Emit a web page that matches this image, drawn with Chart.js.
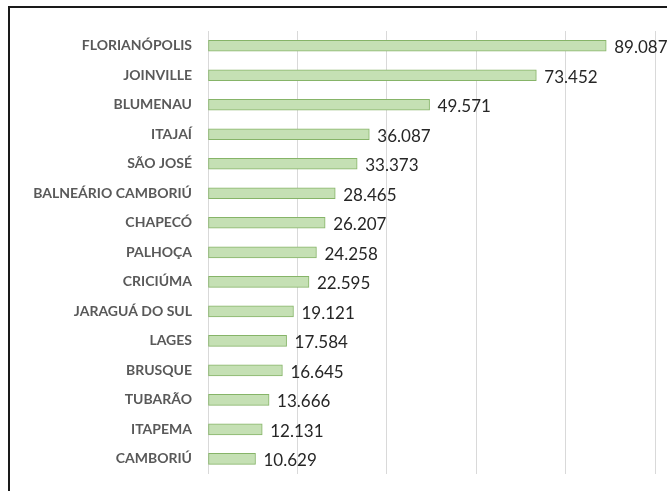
<!DOCTYPE html>
<html>
<head>
<meta charset="utf-8">
<script src="https://cdn.jsdelivr.net/npm/chart.js@4"></script>
<style>
  html, body { margin: 0; padding: 0; background: #fff; }
  #wrap { position: relative; width: 667px; height: 491px; overflow: hidden; }
  #frame { position: absolute; left: 8px; top: 6px; width: 700px; height: 520px; border: 2px solid #1a1a1a; box-sizing: border-box; }
  #chart { position: absolute; left: 0; top: 0; }
</style>
</head>
<body>
<div id="wrap">
  <div id="frame"></div>
  <canvas id="chart" width="667" height="498"></canvas>
</div>
<script>
  const cities = [
    'FLORIANÓPOLIS', 'JOINVILLE', 'BLUMENAU', 'ITAJAÍ', 'SÃO JOSÉ',
    'BALNEÁRIO CAMBORIÚ', 'CHAPECÓ', 'PALHOÇA', 'CRICIÚMA', 'JARAGUÁ DO SUL',
    'LAGES', 'BRUSQUE', 'TUBARÃO', 'ITAPEMA', 'CAMBORIÚ'
  ];
  const values = [
    89087, 73452, 49571, 36087, 33373,
    28465, 26207, 24258, 22595, 19121,
    17584, 16645, 13666, 12131, 10629
  ];
  const axisMax = 100000;
  const axisStep = 20000;

  const formatValue = (v) => v.toLocaleString('pt-BR');

  // draws the number to the right of each bar
  const valueLabels = {
    id: 'valueLabels',
    afterDatasetsDraw(chart) {
      const { ctx } = chart;
      const meta = chart.getDatasetMeta(0);
      ctx.save();
      ctx.font = '17px Lato, "Open Sans", sans-serif';
      ctx.fillStyle = '#262626';
      ctx.textAlign = 'left';
      ctx.textBaseline = 'middle';
      meta.data.forEach((bar, i) => {
        ctx.fillText(formatValue(values[i]), bar.x + 8, bar.y + 2);
      });
      ctx.restore();
    }
  };

  new Chart(document.getElementById('chart'), {
    type: 'bar',
    data: {
      labels: cities,
      datasets: [{
        data: values,
        backgroundColor: '#c5e0b4',
        borderColor: '#86b468',
        borderWidth: 1,
        borderSkipped: false,
        barThickness: 11
      }]
    },
    options: {
      indexAxis: 'y',
      responsive: false,
      animation: false,
      layout: { padding: { left: 0, top: 31, right: 12, bottom: 5 } },
      plugins: {
        legend: { display: false },
        tooltip: { enabled: false }
      },
      scales: {
        x: {
          min: 0,
          max: axisMax,
          afterFit: (scale) => { scale.height = 0; },
          ticks: { display: false, stepSize: axisStep },
          grid: { color: '#d9d9d9', drawTicks: false },
          border: { display: false }
        },
        y: {
          afterFit: (scale) => { scale.width = 208; },
          ticks: {
            color: '#595959',
            padding: 16,
            font: { family: 'Lato, "Open Sans", sans-serif', size: 14, weight: 'bold' }
          },
          grid: { display: false, drawTicks: false },
          border: { color: '#d9d9d9' }
        }
      }
    },
    plugins: [valueLabels]
  });
</script>
</body>
</html>
